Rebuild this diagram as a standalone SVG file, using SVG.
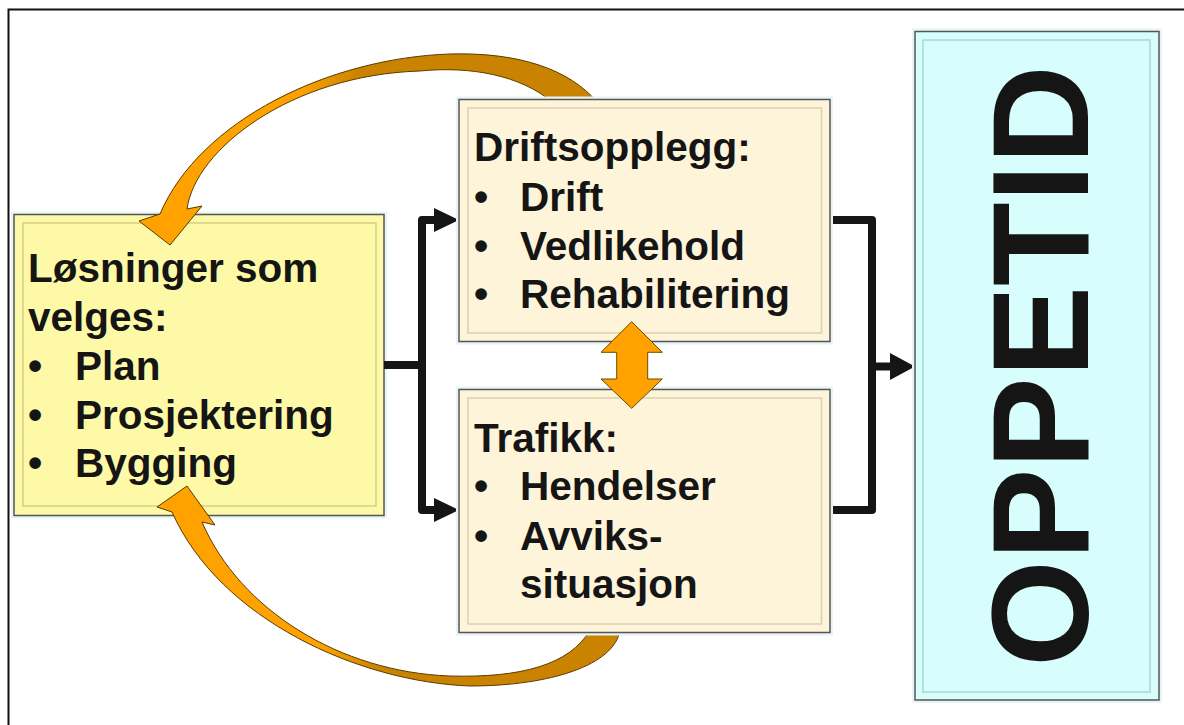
<svg xmlns="http://www.w3.org/2000/svg" width="1184" height="725" viewBox="0 0 1184 725">
<defs>
<style>
.t{font-family:"Liberation Sans",Arial,sans-serif;font-weight:bold;font-size:40.5px;fill:#151515}
.conn{fill:none;stroke:#151515;stroke-width:8;stroke-linejoin:round;stroke-linecap:butt}
.head{fill:#151515}
.glow{fill:none;stroke:#e8f4f6;stroke-width:6}
.outer{stroke:#555;stroke-width:1.5}
.orange{stroke:#5a3c00;stroke-width:1}
</style>
<linearGradient id="gTop" gradientUnits="userSpaceOnUse" x1="300" y1="0" x2="360" y2="0">
<stop offset="0" stop-color="#ffa200"/><stop offset="1" stop-color="#c98300"/>
</linearGradient>
<linearGradient id="gBot" gradientUnits="userSpaceOnUse" x1="320" y1="0" x2="380" y2="0">
<stop offset="0" stop-color="#ffa200"/><stop offset="1" stop-color="#c98300"/>
</linearGradient>
</defs>
<rect width="1184" height="725" fill="#ffffff"/>
<rect x="8.5" y="9.5" width="1200" height="800" fill="none" stroke="#111" stroke-width="2"/>

<g id="node-losninger">
<rect class="glow" x="14" y="214.5" width="370" height="301"/>
<rect class="outer" x="14" y="214.5" width="370" height="301" fill="#fdf9a6"/>
<rect x="23" y="223" width="353" height="283" fill="none" stroke="#d3cf8c" stroke-width="1.5"/>
<text class="t" x="28" y="282">Løsninger som</text>
<text class="t" x="28" y="331">velges:</text>
<text class="t" y="380"><tspan x="28">•</tspan><tspan x="75">Plan</tspan></text>
<text class="t" y="429"><tspan x="28">•</tspan><tspan x="75">Prosjektering</tspan></text>
<text class="t" y="477"><tspan x="28">•</tspan><tspan x="75">Bygging</tspan></text>
</g>

<g id="connectors">
<path class="orange" fill="url(#gTop)" d="M597,102 C570,70 520,52 450,54 C330,58 200,120 160,214 L139,221 L170,245 L202,206 L187,209 C195,150 290,75 420,71 C470,66 520,75 552,102 Z"/>
<path class="orange" fill="url(#gBot)" d="M620,630 C615,665 550,686 470,686 C360,682 220,620 172,512 L157,507 L187,486 L215,525 L202,522 C240,610 340,672 450,676 C520,678 570,665 590,630 Z"/>
<path class="conn" d="M384,365 H422"/>
<path class="conn" d="M437,220 H422 V510 H437"/>
<polygon class="head" points="434,208 459,220 434,232"/>
<polygon class="head" points="434,498 459,510 434,522"/>
<path class="conn" d="M830,220 H872 V510 H830"/>
<path class="conn" d="M872,366.5 H893"/>
<polygon class="head" points="890,353 915,366.5 890,380"/>
</g>

<g id="node-driftsopplegg">
<rect class="glow" x="459" y="99.5" width="371" height="242"/>
<rect class="outer" x="459" y="99.5" width="371" height="242" fill="#fdf4d9"/>
<rect x="468" y="108" width="353.5" height="225" fill="none" stroke="#dccfb2" stroke-width="1.5"/>
<text class="t" x="474" y="161">Driftsopplegg:</text>
<text class="t" y="210.7"><tspan x="474">•</tspan><tspan x="520">Drift</tspan></text>
<text class="t" y="260"><tspan x="474">•</tspan><tspan x="520">Vedlikehold</tspan></text>
<text class="t" y="308"><tspan x="474">•</tspan><tspan x="520">Rehabilitering</tspan></text>
</g>

<g id="node-trafikk">
<rect class="glow" x="459" y="389.5" width="371" height="243"/>
<rect class="outer" x="459" y="389.5" width="371" height="243" fill="#fdf4d9"/>
<rect x="468" y="398" width="353.5" height="226" fill="none" stroke="#dccfb2" stroke-width="1.5"/>
<text class="t" x="474" y="451.7">Trafikk:</text>
<text class="t" y="500"><tspan x="474">•</tspan><tspan x="520">Hendelser</tspan></text>
<text class="t" y="550"><tspan x="474">•</tspan><tspan x="520">Avviks-</tspan></text>
<text class="t" x="520" y="597.7">situasjon</text>
</g>

<g id="double-arrow">
<polygon fill="#ffa200" stroke="#6b4a00" stroke-width="1" points="631.7,321.7 662.3,352.3 647.7,352.3 647.7,379 662.3,379 631.7,408.3 601,379 616.7,379 616.7,352.3 601,352.3"/>
</g>

<g id="node-oppetid">
<rect class="glow" x="915" y="31.5" width="244" height="668.5"/>
<rect class="outer" x="915" y="31.5" width="244" height="668.5" fill="#d7fdfc"/>
<rect x="923" y="40" width="227" height="652" fill="none" stroke="#a9d6d3" stroke-width="1.5"/>
<text class="t" style="font-size:137px" text-anchor="middle" transform="translate(1088,366) rotate(-90)">OPPETID</text>
</g>
</svg>
